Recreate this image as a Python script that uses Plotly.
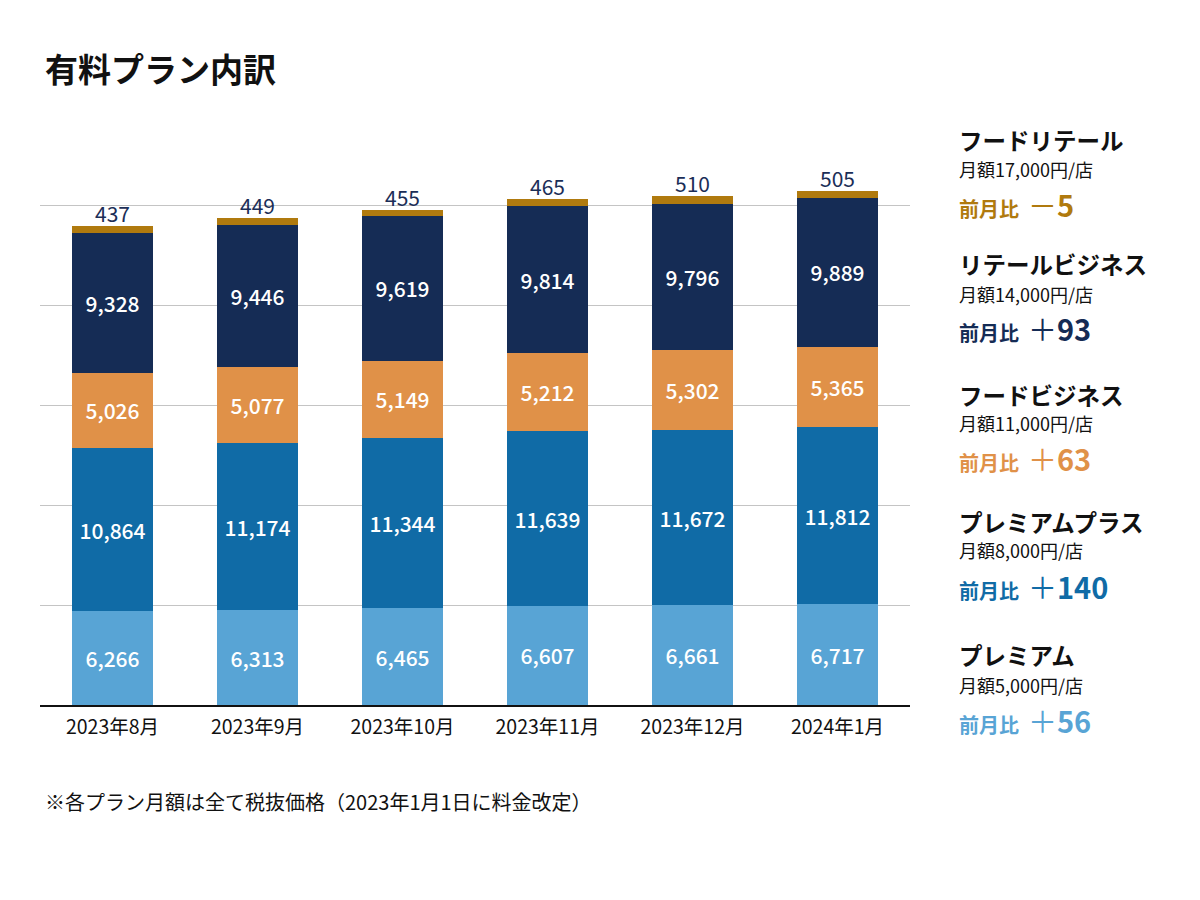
import plotly.graph_objects as go

months = ["2023年8月", "2023年9月", "2023年10月", "2023年11月", "2023年12月", "2024年1月"]

premium = [6266, 6313, 6465, 6607, 6661, 6717]
premium_plus = [10864, 11174, 11344, 11639, 11672, 11812]
food_business = [5026, 5077, 5149, 5212, 5302, 5365]
retail_business = [9328, 9446, 9619, 9814, 9796, 9889]
food_retail = [437, 449, 455, 465, 510, 505]

plan_names = ["フードリテール", "リテールビジネス", "フードビジネス", "プレミアムプラス", "プレミアム"]
plan_prices = ["17,000", "14,000", "11,000", "8,000", "5,000"]

FONT = "Noto Sans CJK JP"
colors = {
    "premium": "#58a4d5",
    "premium_plus": "#106ba6",
    "food_business": "#e09148",
    "retail_business": "#152c55",
    "food_retail": "#b07a0e",
}

fig = go.Figure()

series = [
    ("プレミアム", premium, colors["premium"]),
    ("プレミアムプラス", premium_plus, colors["premium_plus"]),
    ("フードビジネス", food_business, colors["food_business"]),
    ("リテールビジネス", retail_business, colors["retail_business"]),
]
for name, vals, col in series:
    fig.add_trace(go.Bar(
        x=months, y=vals, name=name, marker_color=col, marker_line_width=0,
        texttemplate="%{y:,.0f}", textposition="inside", insidetextanchor="middle",
        textangle=0, textfont=dict(family=FONT, size=21, color="white", weight=500),
    ))

fig.add_trace(go.Bar(
    x=months, y=food_retail, name="フードリテール", marker_color=colors["food_retail"],
    marker_line_width=0, textposition="none",
))

# food retail numbers sit right on top of each stack
totals = [sum(v) for v in zip(premium, premium_plus, food_business, retail_business, food_retail)]
for m, tot, v in zip(months, totals, food_retail):
    fig.add_annotation(x=m, y=tot, text=f"{v:,}", showarrow=False, yanchor="bottom", yshift=-4,
                       font=dict(family=FONT, size=21, color="#1b2e57"))

# page has an 8px body margin, so screen px -> figure px
OFF = 8
L, R, T, B = 40 - OFF, 290 + OFF, 105 - OFF, 195 + OFF
PW, PH = 1200 - L - R, 900 - T - B


def px(x):
    return (x - OFF - L) / PW


def py(y):
    return ((900 - B) - (y - OFF)) / PH


all_series = [food_retail, retail_business, food_business, premium_plus, premium]
block_colors = [colors["food_retail"], colors["retail_business"], colors["food_business"],
                colors["premium_plus"], colors["premium"]]
head_y = [140, 264, 395, 522, 655]
sub_y = [169, 294, 423, 550, 685]
diff_y = [204, 328, 458, 586, 720]

for i, name in enumerate(plan_names):
    vals = all_series[i]
    d = vals[-1] - vals[-2]
    sign = "＋" if d >= 0 else "－"
    col = block_colors[i]
    fig.add_annotation(x=px(957), y=py(head_y[i]), xref="paper", yref="paper",
                       text="<b>" + name + "</b>", showarrow=False, xanchor="left", yanchor="middle",
                       font=dict(family=FONT, size=23.5, color="#111111"))
    fig.add_annotation(x=px(957), y=py(sub_y[i]), xref="paper", yref="paper",
                       text="月額" + plan_prices[i] + "円/店", showarrow=False, xanchor="left", yanchor="middle",
                       font=dict(family=FONT, size=18, color="#111111"))
    fig.add_annotation(x=px(957), y=py(diff_y[i]), xref="paper", yref="paper",
                       text="<b>前月比</b>  <span style='font-size:29px'>" + sign + "<b>" + str(abs(d)) + "</b></span>",
                       showarrow=False, xanchor="left", yanchor="middle",
                       font=dict(family=FONT, size=20, color=col))

fig.add_annotation(x=px(43), y=py(68), xref="paper", yref="paper", text="<b>有料プラン内訳</b>",
                   showarrow=False, xanchor="left", yanchor="middle",
                   font=dict(family=FONT, size=33, color="#111111"))
fig.add_annotation(x=px(43), y=py(801), xref="paper", yref="paper",
                   text="※各プラン月額は全て税抜価格（2023年1月1日に料金改定）",
                   showarrow=False, xanchor="left", yanchor="middle",
                   font=dict(family=FONT, size=20, color="#111111"))

fig.update_layout(
    width=1200, height=900,
    margin=dict(l=L, r=R, t=T, b=B),
    barmode="stack", bargap=0.435,
    showlegend=False,
    plot_bgcolor="white", paper_bgcolor="white",
    font=dict(family=FONT, color="#111111"),
)
fig.update_xaxes(showline=True, linecolor="#111111", linewidth=1.5, ticks="",
                 tickfont=dict(family=FONT, size=19.5, color="#111111"), ticklabelstandoff=4)
fig.update_yaxes(range=[0, 40000], tickvals=[40000 / 6 * k for k in range(1, 6)],
                 showticklabels=False, showgrid=True, gridcolor="#c4c4c4", gridwidth=1,
                 zeroline=False)

fig.write_html("out.html")
